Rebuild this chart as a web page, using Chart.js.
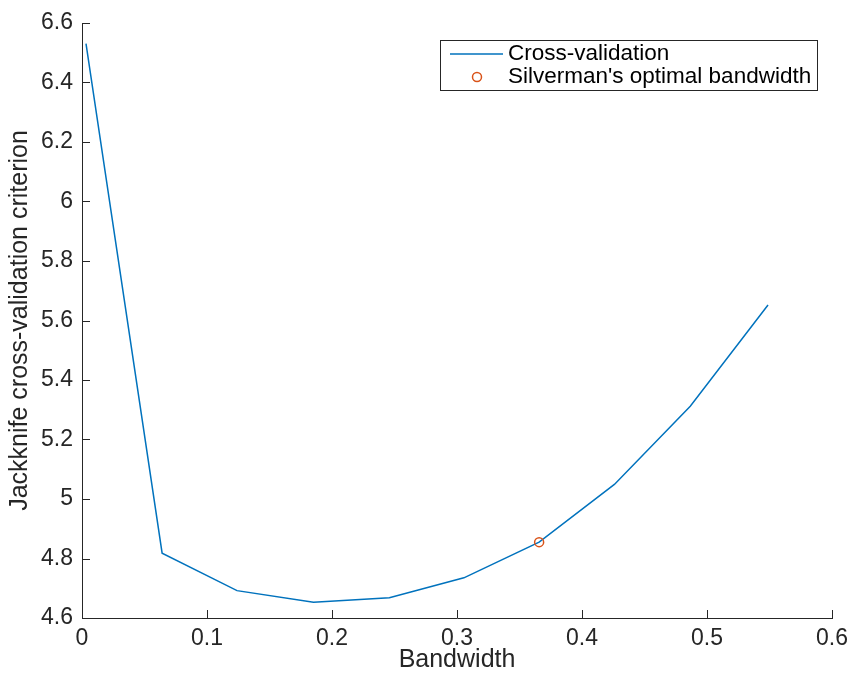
<!DOCTYPE html>
<html lang="en">
<head>
<meta charset="UTF-8">
<title>Jackknife cross-validation</title>
<script src="https://cdn.jsdelivr.net/npm/chart.js"></script>
<style>
    body { margin: 0; background: #fff; }
    #wrap { width: 855px; height: 675px; }
</style>
</head>
<body>
<div id="wrap"><canvas id="cv" width="855" height="675"></canvas></div>
<script>
    // cross-validation curve
    const bandwidths = [0.0032, 0.0641, 0.1240, 0.1852, 0.2459, 0.3055, 0.3657, 0.4259, 0.4866, 0.5488];
    const cvCriterion = [6.531, 4.818, 4.692, 4.653, 4.668, 4.735, 4.855, 5.049, 5.312, 5.652];

    // Silverman's rule-of-thumb bandwidth
    const silvermanBw = [0.3657];
    const silvermanCv = [4.855];

    const xTicks = [0, 0.1, 0.2, 0.3, 0.4, 0.5, 0.6];
    const yTicks = [4.6, 4.8, 5, 5.2, 5.4, 5.6, 5.8, 6, 6.2, 6.4, 6.6];

    const FONT = "'Liberation Sans', Arial, Helvetica, sans-serif";
    const INK = '#262626';
    const LINE_BLUE = '#0072BD';
    const MARK_RED = '#D95319';

    const fmt = v => String(+v.toFixed(2));

    // MATLAB-like inward tick marks
    const inwardTicks = {
        id: 'inwardTicks',
        afterDraw(chart) {
            const { ctx, chartArea: a, scales: { x, y } } = chart;
            ctx.save();
            ctx.strokeStyle = INK;
            ctx.lineWidth = 1;
            ctx.beginPath();
            xTicks.forEach(t => {
                const px = Math.round(x.getPixelForValue(t)) + 0.5;
                ctx.moveTo(px, a.bottom);
                ctx.lineTo(px, a.bottom - 8);
            });
            yTicks.forEach(t => {
                const py = Math.round(y.getPixelForValue(t)) + 0.5;
                ctx.moveTo(a.left, py);
                ctx.lineTo(a.left + 8, py);
            });
            ctx.stroke();
            ctx.restore();
        }
    };

    // boxed legend in the upper right
    const boxLegend = {
        id: 'boxLegend',
        afterDraw(chart) {
            const ctx = chart.ctx;
            const bx = 440.5, by = 40.5, bw = 377, bh = 50;
            ctx.save();
            ctx.fillStyle = '#fff';
            ctx.fillRect(bx, by, bw, bh);
            ctx.strokeStyle = INK;
            ctx.lineWidth = 1;
            ctx.strokeRect(bx, by, bw, bh);

            ctx.strokeStyle = LINE_BLUE;
            ctx.lineWidth = 1.5;
            ctx.beginPath();
            ctx.moveTo(450, 54);
            ctx.lineTo(503, 54);
            ctx.stroke();

            ctx.strokeStyle = MARK_RED;
            ctx.beginPath();
            ctx.arc(477, 77, 4.5, 0, Math.PI * 2);
            ctx.stroke();

            ctx.fillStyle = '#000';
            ctx.font = '22.5px ' + FONT;
            ctx.textBaseline = 'middle';
            ctx.fillText(chart.data.datasets[0].label, 508, 54);
            ctx.fillText(chart.data.datasets[1].label, 508, 77);
            ctx.restore();
        }
    };

    new Chart(document.getElementById('cv'), {
        type: 'scatter',
        data: {
            datasets: [
                {
                    label: 'Cross-validation',
                    data: bandwidths.map((b, i) => ({ x: b, y: cvCriterion[i] })),
                    showLine: true,
                    borderColor: LINE_BLUE,
                    borderWidth: 1.5,
                    pointRadius: 0,
                    tension: 0,
                    order: 2
                },
                {
                    label: "Silverman's optimal bandwidth",
                    data: silvermanBw.map((b, i) => ({ x: b, y: silvermanCv[i] })),
                    showLine: false,
                    pointStyle: 'circle',
                    pointRadius: 4.5,
                    pointBorderWidth: 1.5,
                    pointBorderColor: MARK_RED,
                    pointBackgroundColor: 'rgba(0,0,0,0)',
                    order: 1
                }
            ]
        },
        options: {
            responsive: false,
            animation: false,
            layout: { padding: { top: 23, right: 21, left: 0, bottom: 0 } },
            plugins: {
                legend: { display: false },
                tooltip: { enabled: false }
            },
            scales: {
                x: {
                    type: 'linear',
                    min: 0,
                    max: 0.6,
                    afterBuildTicks: s => { s.ticks = xTicks.map(v => ({ value: v })); },
                    afterFit: s => { s.height = 57; },
                    grid: { display: false, drawTicks: false },
                    border: { display: true, color: INK, width: 1 },
                    ticks: {
                        padding: 7,
                        color: INK,
                        font: { family: FONT, size: 23 },
                        maxRotation: 0,
                        callback: fmt
                    },
                    title: {
                        display: true,
                        text: 'Bandwidth',
                        color: INK,
                        font: { family: FONT, size: 25 },
                        padding: { top: 0, bottom: 0 }
                    }
                },
                y: {
                    type: 'linear',
                    min: 4.6,
                    max: 6.6,
                    afterBuildTicks: s => { s.ticks = yTicks.map(v => ({ value: v })); },
                    afterFit: s => { s.width = 82; },
                    grid: { display: false, drawTicks: false },
                    border: { display: true, color: INK, width: 1 },
                    ticks: {
                        padding: 9,
                        color: INK,
                        font: { family: FONT, size: 23 },
                        callback: fmt
                    },
                    title: {
                        display: true,
                        text: 'Jackknife cross-validation criterion',
                        color: INK,
                        font: { family: FONT, size: 25 },
                        padding: { top: 5, bottom: 0 }
                    }
                }
            }
        },
        plugins: [inwardTicks, boxLegend]
    });
</script>
</body>
</html>
